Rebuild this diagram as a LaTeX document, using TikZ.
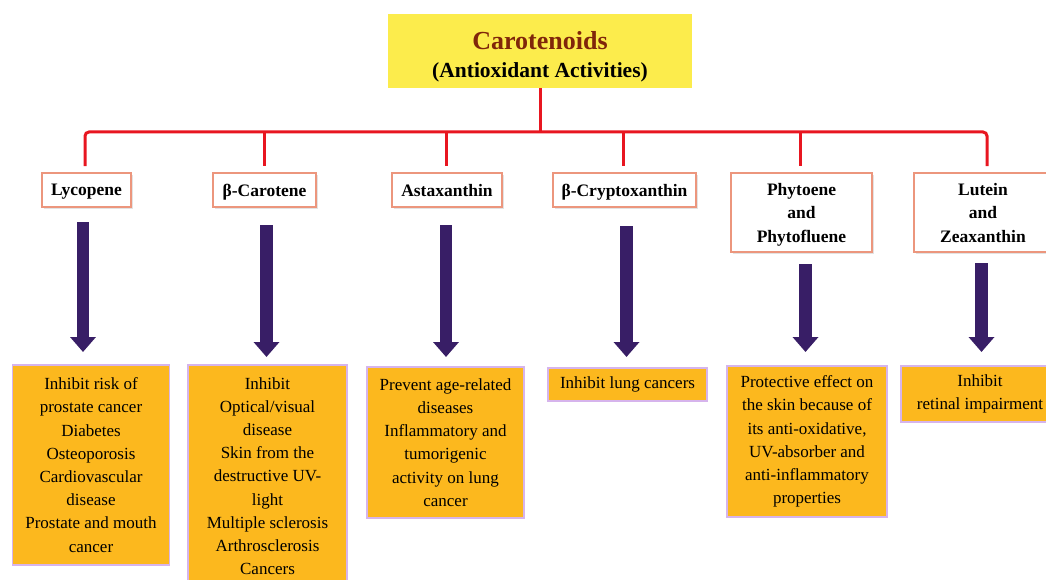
\documentclass[tikz,border=0pt]{standalone}
\usepackage{fontspec}
\setmainfont{Liberation Serif}
\usetikzlibrary{arrows.meta,shadows}
\definecolor{titlefill}{RGB}{252,236,76}
\definecolor{titletext}{RGB}{128,38,10}
\definecolor{hdrborder}{RGB}{236,150,125}
\definecolor{resfill}{RGB}{252,184,30}
\definecolor{resborder}{RGB}{214,180,236}
\definecolor{lineRed}{RGB}{232,22,32}
\definecolor{arrowPurple}{RGB}{56,30,102}
\begin{document}
\begin{tikzpicture}[x=1pt,y=-1pt,
  titlebox/.style={fill=titlefill, inner sep=0pt, minimum width=304pt, minimum height=74pt},
  titletxt/.style={inner sep=0pt, align=center, font=\fontsize{21.5}{28}\selectfont\bfseries},
  hdr/.style={draw=hdrborder, line width=1.8pt, fill=white, inner sep=0pt, align=center,
    font=\fontsize{17.5}{23.5}\selectfont\bfseries, text depth=0pt,
    drop shadow={shadow xshift=2pt, shadow yshift=-2pt, opacity=0.22}},
  res/.style={draw=resborder, line width=1.3pt, fill=resfill, inner sep=0pt, align=center,
    font=\fontsize{17}{23.2}\selectfont},
  redline/.style={draw=lineRed, line width=3pt},
  bigarrow/.style={draw=arrowPurple, line width=12.5pt, -{Triangle[width=25pt,length=15pt]}}]
\useasboundingbox (0,0) rectangle (1046,580);
% title
\node[titlebox] (title) at (540,51) {};
\node[titletxt] (ttext) at (540,57) {\textcolor{titletext}{\fontsize{26}{28}\selectfont Carotenoids}\\(Antioxidant Activities)};
% header boxes
\node[hdr, minimum width=89pt, minimum height=34pt] (lyc) at (86.5,190) {Lycopene};
\node[hdr, minimum width=103pt, minimum height=34pt] (bcar) at (264.5,190) {β-Carotene};
\node[hdr, minimum width=110pt, minimum height=34pt] (ast) at (447,190) {Astaxanthin};
\node[hdr, minimum width=143pt, minimum height=34pt] (bcry) at (624.5,190) {β-Cryptoxanthin};
\node[hdr, minimum width=141pt, minimum height=79pt] (phy) at (801.5,212.5) {Phytoene\\and\\Phytofluene};
\node[hdr, minimum width=138pt, minimum height=79pt] (lut) at (983,212.5) {Lutein\\and\\Zeaxanthin};
% red tree
\coordinate (bus) at (540,132);
\draw[redline] (title.south) -- (bus);
\draw[redline, rounded corners=4pt] ([xshift=-1.5pt,yshift=6pt]lyc.north) |- (bus) -|
  ([xshift=4pt,yshift=6pt]lut.north);
\draw[redline] (bcar.north |- bus) -- ([yshift=6pt]bcar.north);
\draw[redline] ([xshift=-1pt]ast.north |- bus) -- ([xshift=-1pt,yshift=6pt]ast.north);
\draw[redline] ([xshift=-1.5pt]bcry.north |- bus) -- ([xshift=-1.5pt,yshift=6pt]bcry.north);
\draw[redline] ([xshift=-1.5pt]phy.north |- bus) -- ([xshift=-1.5pt,yshift=6pt]phy.north);
% result boxes
\node[res, minimum width=157pt, minimum height=200pt] (r1) at (91,465)
  {Inhibit risk of\\prostate cancer\\Diabetes\\Osteoporosis\\Cardiovascular\\disease\\Prostate and mouth\\cancer};
\node[res, minimum width=159pt, minimum height=222pt] (r2) at (267.5,476)
  {Inhibit\\Optical/visual\\disease\\Skin from the\\destructive UV-\\light\\Multiple sclerosis\\Arthrosclerosis\\Cancers};
\node[res, minimum width=157pt, minimum height=151pt] (r3) at (445.5,442.5)
  {Prevent age-related\\diseases\\Inflammatory and\\tumorigenic\\activity on lung\\cancer};
\node[res, minimum width=159pt, minimum height=33pt] (r4) at (627.5,384.5)
  {Inhibit lung cancers};
\node[res, minimum width=160pt, minimum height=151pt] (r5) at (807,441.5)
  {Protective effect on\\the skin because of\\its anti-oxidative,\\UV-absorber and\\anti-inflammatory\\properties};
\node[res, minimum width=158pt, minimum height=56pt] (r6) at (980,394)
  {Inhibit\\retinal impairment};
% purple arrows
\coordinate (a1s) at (83,222);   \coordinate (a1e) at (83,352);
\coordinate (a2s) at (266.5,225); \coordinate (a2e) at (266.5,357);
\coordinate (a3s) at (446,225);  \coordinate (a3e) at (446,357);
\coordinate (a4s) at (626.5,226); \coordinate (a4e) at (626.5,357);
\coordinate (a5s) at (805.5,264); \coordinate (a5e) at (805.5,352);
\coordinate (a6s) at (981.5,263); \coordinate (a6e) at (981.5,352);
\draw[bigarrow] (a1s) -- (a1e);
\draw[bigarrow] (a2s) -- (a2e);
\draw[bigarrow] (a3s) -- (a3e);
\draw[bigarrow] (a4s) -- (a4e);
\draw[bigarrow] (a5s) -- (a5e);
\draw[bigarrow] (a6s) -- (a6e);
\end{tikzpicture}
\end{document}
